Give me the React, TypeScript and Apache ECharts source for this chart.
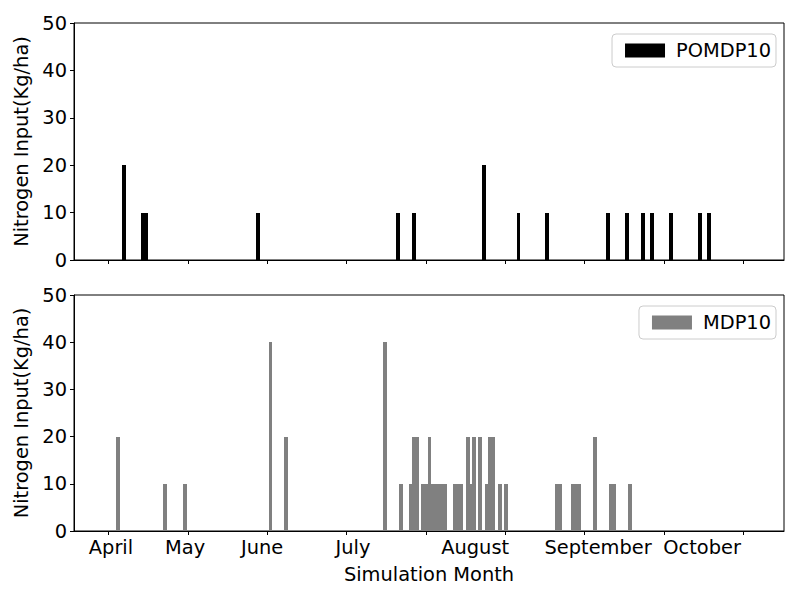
import React, { useEffect, useRef } from 'react';
import * as echarts from 'echarts';

// Top panel (POMDP10): day position and nitrogen input (kg/ha)
const pomdpDays = [3.8, 8.6, 9.5, 37.7, 73.0, 76.9, 94.6, 103.3, 110.5, 125.9, 130.7, 134.7, 137.0, 141.8, 149.1, 151.4];
const pomdpN = [20, 10, 10, 10, 10, 10, 20, 10, 10, 10, 10, 10, 10, 10, 10, 10];

// Bottom panel (MDP10)
const mdpDays = [2.4, 14.3, 19.3, 40.8, 44.7, 69.7, 73.7, 76.2, 77.0, 77.8, 79.2, 80.1, 80.9, 81.7, 82.6, 83.5, 84.4, 84.8, 87.3, 88.2, 88.9, 90.5, 91.3, 92.1, 93.6, 95.3, 96.1, 96.9, 98.6, 100.2, 113.0, 113.8, 117.0, 117.8, 118.6, 122.6, 126.6, 127.5, 131.4];
const mdpN = [20, 10, 10, 40, 20, 40, 10, 10, 20, 20, 10, 10, 20, 10, 10, 10, 10, 10, 10, 10, 10, 20, 10, 20, 20, 10, 20, 20, 10, 10, 10, 10, 10, 10, 10, 20, 10, 10, 10];

const xTicks = [0, 20, 40, 60, 80, 100, 120, 140, 160];
const monthPos = [0.6, 19.3, 38.7, 61.6, 92.4, 123.4, 149.6];
const months = ['April', 'May', 'June', 'July', 'August', 'September', 'October'];
const yTicks = [0, 10, 20, 30, 40, 50];

const X_MIN = -8.72;
const X_MAX = 170.25;
const BAR_W = 0.95;
const FONT = 'DejaVu Sans';
const FS = 19.4;

function renderBar(color: string) {
  return (params: any, api: any) => {
    const x = api.value(0);
    const v = api.value(1);
    const a = api.coord([x - BAR_W / 2, v]);
    const b = api.coord([x + BAR_W / 2, 0]);
    // snap edges to whole pixels so neighbouring bars join without seams
    const x0 = Math.round(a[0]);
    const x1 = Math.round(b[0]);
    const y0 = Math.round(a[1]);
    const y1 = b[1];
    return {
      type: 'rect',
      shape: { x: x0, y: y0, width: Math.max(1, x1 - x0), height: y1 - y0 },
      style: { fill: color },
    };
  };
}

function nearestMonth(v: number): string {
  let best = 0;
  for (let i = 1; i < monthPos.length; i++) {
    if (Math.abs(monthPos[i] - v) < Math.abs(monthPos[best] - v)) best = i;
  }
  return months[best];
}

export default function App() {
  const ref = useRef<HTMLDivElement>(null);
  useEffect(() => {
    if (!ref.current) return;
    const chart = echarts.init(ref.current, undefined, { renderer: 'svg' });
    const baseX = {
      type: 'value',
      min: X_MIN,
      max: X_MAX,
      axisLine: { show: true, onZero: false, lineStyle: { color: '#000', width: 1 } },
      axisTick: { show: true, customValues: xTicks, length: 4, lineStyle: { color: '#000', width: 1 } },
      splitLine: { show: false },
    };
    const baseY = {
      type: 'value',
      min: 0,
      max: 50,
      interval: 10,
      name: 'Nitrogen Input(Kg/ha)',
      nameLocation: 'middle',
      nameGap: 41,
      nameTextStyle: { fontSize: FS, color: '#000', fontFamily: FONT },
      axisLine: { show: true, onZero: false, lineStyle: { color: '#000', width: 1 } },
      axisTick: { show: true, length: 4, lineStyle: { color: '#000', width: 1 } },
      axisLabel: { fontSize: FS, color: '#000', fontFamily: FONT, margin: 7, customValues: yTicks },
      splitLine: { show: false },
    };
    const legendBase = {
      orient: 'vertical',
      right: 24,
      itemWidth: 40,
      itemHeight: 14,
      selectedMode: false,
      backgroundColor: '#ffffff',
      borderColor: '#cccccc',
      borderWidth: 1,
      borderRadius: 4,
      padding: [7, 5, 7, 13],
      textStyle: { fontSize: FS, color: '#000', fontFamily: FONT, padding: [0, 0, 0, 6] },
    };
    chart.setOption({
      animation: false,
      backgroundColor: '#ffffff',
      textStyle: { fontFamily: FONT },
      grid: [
        { left: 74, right: 16, top: 23, height: 237, show: true, borderColor: '#000', borderWidth: 1, backgroundColor: 'transparent' },
        { left: 74, right: 16, top: 295, height: 236, show: true, borderColor: '#000', borderWidth: 1, backgroundColor: 'transparent' },
      ],
      xAxis: [
        { ...baseX, gridIndex: 0, axisLabel: { show: false } },
        {
          ...baseX,
          gridIndex: 1,
          name: 'Simulation Month',
          nameLocation: 'middle',
          nameGap: 34,
          nameTextStyle: { fontSize: FS, color: '#000', fontFamily: FONT },
          axisLabel: {
            show: true,
            customValues: monthPos,
            fontSize: FS,
            color: '#000',
            fontFamily: FONT,
            margin: 7,
            hideOverlap: false,
            formatter: (v: number) => nearestMonth(v),
          },
        },
      ],
      yAxis: [
        { ...baseY, gridIndex: 0 },
        { ...baseY, gridIndex: 1 },
      ],
      legend: [
        { ...legendBase, top: 34, data: [{ name: 'POMDP10', icon: 'rect' }] },
        { ...legendBase, top: 306, data: [{ name: 'MDP10', icon: 'rect' }] },
      ],
      series: [
        {
          name: 'POMDP10',
          type: 'custom',
          xAxisIndex: 0,
          yAxisIndex: 0,
          itemStyle: { color: '#000000' },
          renderItem: renderBar('#000000'),
          encode: { x: 0, y: 1 },
          data: pomdpDays.map((d, i) => [d, pomdpN[i]]),
        },
        {
          name: 'MDP10',
          type: 'custom',
          xAxisIndex: 1,
          yAxisIndex: 1,
          itemStyle: { color: '#808080' },
          renderItem: renderBar('#808080'),
          encode: { x: 0, y: 1 },
          data: mdpDays.map((d, i) => [d, mdpN[i]]),
        },
      ],
    });
    return () => chart.dispose();
  }, []);
  return <div ref={ref} style={{ position: 'fixed', left: 0, top: 0, width: 800, height: 600 }} />;
}
